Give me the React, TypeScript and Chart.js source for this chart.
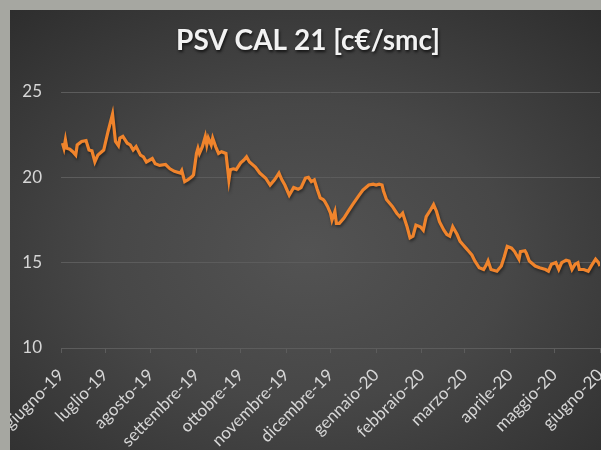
import React, { useEffect, useRef } from "react";
import { Chart, registerables } from "chart.js";

Chart.register(...registerables);

const TITLE = "PSV CAL 21 [c€/smc]";

const monthStarts = [
  "2019-06-01", "2019-07-01", "2019-08-01", "2019-09-01", "2019-10-01", "2019-11-01",
  "2019-12-01", "2020-01-01", "2020-02-01", "2020-03-01", "2020-04-01", "2020-05-01", "2020-06-01",
];
const monthLabels = [
  "giugno-19", "luglio-19", "agosto-19", "settembre-19", "ottobre-19", "novembre-19",
  "dicembre-19", "gennaio-20", "febbraio-20", "marzo-20", "aprile-20", "maggio-20", "giugno-20",
];

const yTicks = [10, 15, 20, 25];

const dates = [
  "2019-06-02", "2019-06-03", "2019-06-04", "2019-06-05", "2019-06-07", "2019-06-09", "2019-06-11",
  "2019-06-12", "2019-06-15", "2019-06-18", "2019-06-20", "2019-06-22", "2019-06-24", "2019-06-26",
  "2019-06-30", "2019-07-03", "2019-07-06", "2019-07-08", "2019-07-10", "2019-07-11", "2019-07-13",
  "2019-07-16", "2019-07-18", "2019-07-20", "2019-07-22", "2019-07-25", "2019-07-27", "2019-07-29",
  "2019-08-02", "2019-08-04", "2019-08-07", "2019-08-11", "2019-08-14", "2019-08-17", "2019-08-21",
  "2019-08-22", "2019-08-24", "2019-08-26", "2019-08-29", "2019-08-30", "2019-09-01", "2019-09-02",
  "2019-09-03", "2019-09-05", "2019-09-07", "2019-09-08", "2019-09-09", "2019-09-11", "2019-09-12",
  "2019-09-14", "2019-09-16", "2019-09-18", "2019-09-21", "2019-09-23", "2019-09-24", "2019-09-26",
  "2019-09-28", "2019-10-01", "2019-10-03", "2019-10-05", "2019-10-07", "2019-10-11", "2019-10-14",
  "2019-10-18", "2019-10-21", "2019-10-24", "2019-10-27", "2019-10-29", "2019-10-31", "2019-11-03",
  "2019-11-06", "2019-11-09", "2019-11-11", "2019-11-14", "2019-11-16", "2019-11-18", "2019-11-20",
  "2019-11-22", "2019-11-24", "2019-11-26", "2019-11-27", "2019-11-29", "2019-12-01", "2019-12-02",
  "2019-12-04", "2019-12-05", "2019-12-07", "2019-12-10", "2019-12-13", "2019-12-16", "2019-12-20",
  "2019-12-23", "2019-12-27", "2019-12-30", "2020-01-01", "2020-01-03", "2020-01-05", "2020-01-06",
  "2020-01-08", "2020-01-12", "2020-01-15", "2020-01-17", "2020-01-19", "2020-01-22", "2020-01-24",
  "2020-01-26", "2020-01-28", "2020-01-31", "2020-02-02", "2020-02-04", "2020-02-07", "2020-02-09",
  "2020-02-11", "2020-02-13", "2020-02-16", "2020-02-18", "2020-02-20", "2020-02-22", "2020-02-25",
  "2020-02-27", "2020-02-29", "2020-03-02", "2020-03-04", "2020-03-06", "2020-03-08", "2020-03-11",
  "2020-03-14", "2020-03-16", "2020-03-17", "2020-03-19", "2020-03-23", "2020-03-26", "2020-03-28",
  "2020-03-30", "2020-04-02", "2020-04-04", "2020-04-06", "2020-04-07", "2020-04-08", "2020-04-11",
  "2020-04-12", "2020-04-14", "2020-04-18", "2020-04-21", "2020-04-25", "2020-04-27", "2020-04-29",
  "2020-05-02", "2020-05-04", "2020-05-06", "2020-05-09", "2020-05-11", "2020-05-13", "2020-05-15",
  "2020-05-17", "2020-05-18", "2020-05-21", "2020-05-24", "2020-05-26", "2020-05-29", "2020-05-31",
  "2020-06-01",
];

const values = [
  22.0, 21.7, 22.2, 21.7, 21.65, 21.5, 21.3,
  21.9, 22.1, 22.15, 21.6, 21.55, 20.9, 21.3,
  21.6, 22.7, 23.7, 22.1, 21.85, 22.3, 22.4,
  22.0, 21.9, 21.6, 21.8, 21.3, 21.2, 20.9,
  21.1, 20.8, 20.7, 20.75, 20.5, 20.35, 20.25,
  20.4, 19.75, 19.85, 20.05, 20.15, 21.4, 21.7,
  21.4, 21.8, 22.4, 21.9, 22.3, 21.9, 22.3,
  21.8, 21.4, 21.5, 21.4, 19.85, 20.45, 20.5,
  20.45, 20.85, 21.0, 21.2, 20.9, 20.6, 20.25,
  19.95, 19.55, 19.85, 20.25, 19.85, 19.55, 18.95,
  19.4, 19.3, 19.4, 19.95, 20.0, 19.75, 19.85,
  19.3, 18.8, 18.7, 18.6, 18.3, 17.9, 17.5,
  18.0, 17.3, 17.3, 17.6, 18.0, 18.4, 18.9,
  19.25, 19.55, 19.6, 19.55, 19.6, 19.55, 19.2,
  18.7, 18.3, 17.9, 17.7, 17.9, 17.1, 16.45,
  16.55, 17.2, 17.1, 16.9, 17.7, 18.1, 18.4,
  18.0, 17.4, 16.9, 16.65, 16.55, 17.1, 16.65,
  16.25, 16.05, 15.85, 15.65, 15.45, 15.1, 14.7,
  14.6, 14.9, 15.1, 14.6, 14.5, 14.8, 15.35,
  15.95, 15.85, 15.65, 15.35, 15.2, 15.65, 15.7,
  15.55, 15.1, 14.8, 14.7, 14.6, 14.5, 14.9,
  15.0, 14.6, 15.0, 15.15, 15.1, 14.6, 14.9,
  15.0, 14.6, 14.6, 14.5, 14.8, 15.2, 15.0,
  14.8,
];

const ORIGIN = Date.parse(monthStarts[0] + "T00:00:00Z");
const dayOffset = (s: string) => Math.round((Date.parse(s + "T00:00:00Z") - ORIGIN) / 86400000);

const CHART_W = 596;
const CHART_H = 440;
const FONT = "Lato, 'Open Sans', sans-serif";

const titlePlugin = {
  id: "customTitle",
  afterDraw(chart: any) {
    const ctx = chart.ctx;
    ctx.save();
    ctx.font = `bold 28px ${FONT}`;
    ctx.textAlign = "center";
    ctx.textBaseline = "middle";
    ctx.shadowColor = "rgba(0,0,0,0.7)";
    ctx.shadowBlur = 3;
    ctx.shadowOffsetX = 1;
    ctx.shadowOffsetY = 2;
    ctx.fillStyle = "#f2f2f2";
    ctx.fillText(TITLE, chart.width / 2, 31);
    ctx.restore();
  },
};

const lineShadow = {
  id: "lineShadow",
  beforeDatasetsDraw(chart: any) {
    const ctx = chart.ctx;
    ctx.save();
    ctx.shadowColor = "rgba(0,0,0,0.45)";
    ctx.shadowBlur = 3;
    ctx.shadowOffsetX = 1;
    ctx.shadowOffsetY = 2;
  },
  afterDatasetsDraw(chart: any) {
    chart.ctx.restore();
  },
};

function PriceChart() {
  const ref = useRef<HTMLCanvasElement | null>(null);

  useEffect(() => {
    if (!ref.current) return;
    const monthDays = monthStarts.map(dayOffset);
    const points = dates.map((d, i) => ({ x: dayOffset(d), y: values[i] }));

    const chart = new Chart(ref.current, {
      type: "line",
      data: {
        datasets: [
          {
            data: points,
            borderColor: "#f0842c",
            borderWidth: 3.2,
            pointRadius: 0,
            tension: 0,
            fill: false,
          },
        ],
      },
      plugins: [titlePlugin, lineShadow],
      options: {
        animation: false,
        responsive: false,
        maintainAspectRatio: false,
        layout: { padding: { top: 82, left: 0, right: 6, bottom: 0 } },
        plugins: {
          legend: { display: false },
          title: { display: false },
          tooltip: { enabled: false },
        },
        scales: {
          x: {
            type: "linear",
            min: monthDays[0],
            max: monthDays[monthDays.length - 1],
            afterBuildTicks: (scale: any) => {
              scale.ticks = monthDays.map((v) => ({ value: v }));
            },
            afterFit: (scale: any) => {
              scale.height = CHART_H - 338;
              scale.paddingLeft = 0;
              scale.paddingRight = 0;
            },
            ticks: {
              autoSkip: false,
              minRotation: 45,
              maxRotation: 45,
              padding: 12,
              color: "#d6d6d6",
              font: { family: FONT, size: 17 },
              callback: (val: any) => {
                const i = monthDays.indexOf(Number(val));
                return i >= 0 ? monthLabels[i] : "";
              },
            },
            grid: {
              drawOnChartArea: false,
              drawTicks: true,
              tickLength: 5,
              color: "#5c5c5c",
            },
            border: { display: true, color: "#5c5c5c", width: 1 },
          },
          y: {
            min: yTicks[0],
            max: yTicks[yTicks.length - 1],
            afterBuildTicks: (scale: any) => {
              scale.ticks = yTicks.map((v) => ({ value: v }));
            },
            afterFit: (scale: any) => {
              scale.width = 51;
            },
            ticks: {
              padding: 19,
              color: "#d6d6d6",
              font: { family: FONT, size: 17 },
            },
            grid: {
              drawTicks: false,
              color: "#5c5c5c",
              lineWidth: 1,
            },
            border: { display: false },
          },
        },
      },
    });
    return () => chart.destroy();
  }, []);

  return <canvas ref={ref} width={CHART_W} height={CHART_H} style={{ display: "block", width: CHART_W, height: CHART_H }} />;
}

export default function App() {
  return (
    <div
      style={{
        position: "fixed",
        left: 0,
        top: 0,
        width: 601,
        height: 450,
        overflow: "hidden",
        background: "#a6a7a1",
      }}
    >
      <div
        style={{
          position: "absolute",
          left: 10,
          top: 10,
          width: CHART_W,
          height: CHART_H,
          background:
            "radial-gradient(ellipse 75% 75% at 50% 55%, #535353 0%, #474747 45%, #2d2d2d 100%)",
        }}
      >
        <PriceChart />
      </div>
    </div>
  );
}
